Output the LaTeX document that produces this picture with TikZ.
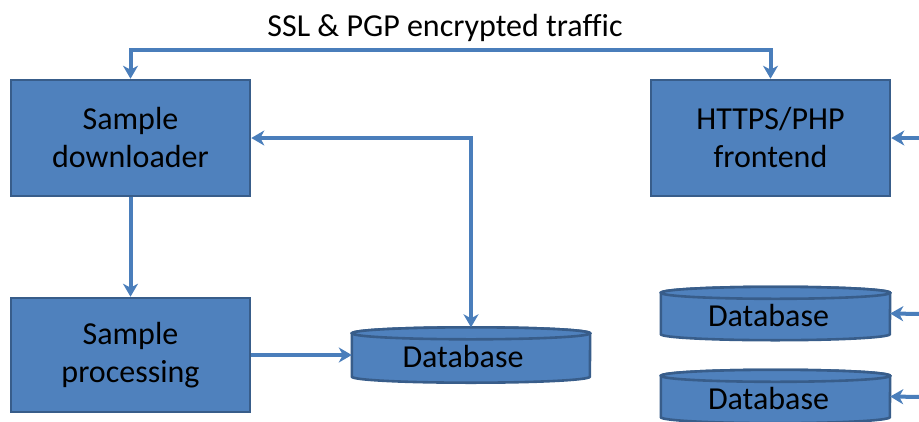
\documentclass[tikz,border=0pt]{standalone}
\usepackage{fontspec}
\setmainfont[Ligatures=NoCommon]{Carlito}
\usetikzlibrary{arrows.meta}

\definecolor{boxfill}{HTML}{4F81BD}
\definecolor{boxedge}{HTML}{385D8A}
\definecolor{wire}{HTML}{4A7EBB}

% outline of a database drum on top of a plain rectangular node
\newcommand\drumoutline[3]{% node name, half width, end-cap radius
  \filldraw[drum]
    ([yshift=-#3]#1.north west) -- ([yshift=#3]#1.south west)
    arc[start angle=180, end angle=360, x radius=#2, y radius=#3]
    -- ([yshift=-#3]#1.north east)
    arc[start angle=0, end angle=180, x radius=#2, y radius=#3] -- cycle;
  \draw[drum] ([yshift=-#3]#1.north) ellipse[x radius=#2, y radius=#3];
}

\begin{document}
\begin{tikzpicture}[x=1pt, y=-1pt,
  txt/.style={font=\fontsize{32}{38}\selectfont, text=black},
  procbox/.style={txt, rectangle, draw=boxedge, fill=boxfill, line width=2.6pt,
    minimum width=239pt, minimum height=116pt, inner sep=0pt, align=center},
  dbnode/.style={txt, rectangle, inner sep=0pt},
  drum/.style={draw=boxedge, fill=boxfill, line width=2.6pt},
  link/.style={draw=wire, line width=4pt,
    -{Stealth[length=13pt, width=15pt, inset=4pt]}},
  duallink/.style={link, {Stealth[length=13pt, width=15pt, inset=4pt]}-{Stealth[length=13pt, width=15pt, inset=4pt]}}
]
\useasboundingbox (0,0) rectangle (919,421);

% processing boxes
\node[procbox] (down)  at (130.5,138) {Sample\\downloader};
\node[procbox] (front) at (770.5,138) {HTTPS/PHP\\frontend};
\node[procbox, minimum height=114pt] (proc) at (130.5,355) {Sample\\processing};

% database drums: shape first, label node on top
\path (471,355) node[dbnode, minimum width=238pt, minimum height=55pt] (db1) {};
\path (775.5,313.5) node[dbnode, minimum width=229pt, minimum height=53pt] (db2) {};
\path (775.5,396.5) node[dbnode, minimum width=229pt, minimum height=53pt] (db3) {};
\drumoutline{db1}{119pt}{6pt}
\drumoutline{db2}{114.5pt}{6pt}
\drumoutline{db3}{114.5pt}{6pt}
\node[txt] at ([xshift=-8pt, yshift=-2pt]db1.center) {Database};
\node[txt] at ([xshift=-7pt, yshift=-2pt]db2.center) {Database};
\node[txt] at ([xshift=-7pt, yshift=-2pt]db3.center) {Database};

% encrypted channel between downloader and frontend
\node[txt] (ssl) at (445,28) {SSL \& PGP encrypted traffic};
\draw[duallink] (down.north) -- (down.north |- 0,50) -- (front.north |- 0,50) -- (front.north);

% internal flows
\draw[link] (down.south) -- (proc.north);
\draw[link] (proc.east) -- (db1.west);
\draw[duallink] (db1.north) -- (db1.north |- down.east) -- (down.east);

% incoming links on the right edge
\coordinate (inA) at (922,138);
\coordinate (inB) at (922,314);
\coordinate (inC) at (922,397);
\draw[link] (inA) -- (front.east);
\draw[link] (inB) -- (db2.east);
\draw[link] (inC) -- (db3.east);
\end{tikzpicture}
\end{document}
